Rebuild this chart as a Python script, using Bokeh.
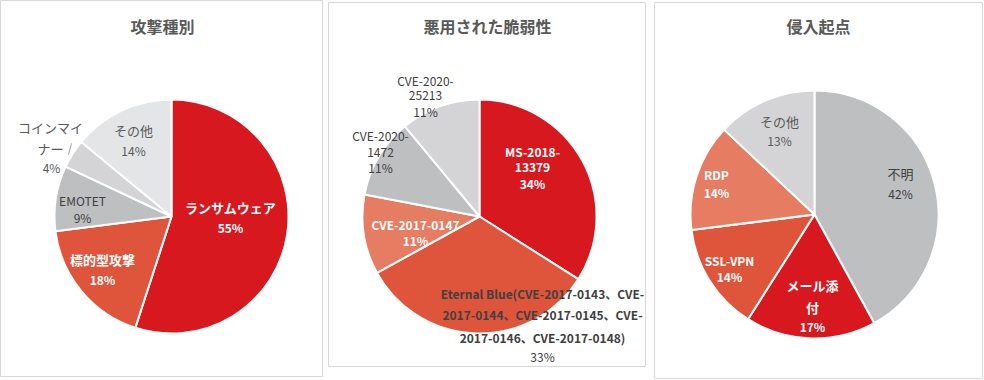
import numpy as np
from bokeh.plotting import figure
from bokeh.layouts import row
from bokeh.models import Spacer, ColumnDataSource
from bokeh.core.properties import value
from bokeh.embed import file_html
from bokeh.resources import INLINE

FONT = "Noto Sans CJK JP"

# ---- data ----
attack_title = "攻撃種別"
attack_labels = ["ランサムウェア", "標的型攻撃", "EMOTET", "コインマイナー", "その他"]
attack_values = [55, 18, 9, 4, 14]

vuln_title = "悪用された脆弱性"
vuln_labels = ["MS-2018-13379",
               "Eternal Blue(CVE-2017-0143、CVE-2017-0144、CVE-2017-0145、CVE-2017-0146、CVE-2017-0148)",
               "CVE-2017-0147", "CVE-2020-1472", "CVE-2020-25213"]
vuln_values = [34, 33, 11, 11, 11]

entry_title = "侵入起点"
entry_labels = ["不明", "メール添付", "SSL-VPN", "RDP", "その他"]
entry_values = [42, 17, 14, 14, 13]

RED = "#d7191f"
ORANGE = "#df553b"
LORANGE = "#e67c62"
GREY = "#bebfc0"
LGREY = "#d4d4d6"
XLGREY = "#e4e5e7"

attack_colors = [RED, ORANGE, GREY, LGREY, XLGREY]
vuln_colors = [RED, ORANGE, LORANGE, GREY, LGREY]
entry_colors = [GREY, RED, ORANGE, LORANGE, LGREY]


class Panel:
    def __init__(self, left, top, W, H):
        self.left, self.top, self.W, self.H = left, top, W, H
        p = figure(width=W, height=H, x_range=(0, W), y_range=(0, H),
                   output_backend="svg", toolbar_location=None, min_border=0,
                   x_axis_type=None, y_axis_type=None)
        p.grid.visible = False
        p.outline_line_color = "#d9d9d9"
        p.outline_line_width = 1
        p.background_fill_color = "white"
        p.border_fill_color = "white"
        if top:
            p.margin = (top, 0, 0, 0)
        self.p = p

    def X(self, ax):
        return ax - self.left

    def Y(self, ay):
        return self.H - (ay - self.top)

    def pie(self, cx, cy, r, values, colors):
        v = np.array(values, dtype=float)
        frac = np.cumsum(v) / v.sum()
        ends = np.pi / 2 - 2 * np.pi * frac
        starts = np.concatenate([[np.pi / 2], ends[:-1]])
        src = ColumnDataSource(dict(start=starts, end=ends, color=colors))
        self.p.wedge(x=self.X(cx), y=self.Y(cy), radius=r, start_angle="start",
                     end_angle="end", direction="clock", fill_color="color",
                     line_color="white", line_width=2, source=src)

    def text(self, ax, ay, s, color="#404040", bold=False, size="12px"):
        self.p.text(x=[self.X(ax)], y=[self.Y(ay)], text=[s],
                    text_font=value(FONT), text_font_size=size,
                    text_font_style="bold" if bold else "normal",
                    text_color=color, text_align="center", text_baseline="middle")

    def title(self, ax, s):
        self.text(ax, 25, s, color="#595959", bold=True, size="16px")


def pct(v):
    return f"{v}%"


# ---- panel 1 ----
P1 = Panel(0, 0, 323, 377)
P1.title(162, attack_title)
P1.pie(171, 216, 117, attack_values, attack_colors)
P1.text(230, 207, attack_labels[0], "white", True, "13px")
P1.text(230, 227, pct(attack_values[0]), "white", True)
P1.text(102, 259, attack_labels[1], "white", True, "13px")
P1.text(102, 279, pct(attack_values[1]), "white", True)
P1.text(82, 200, attack_labels[2], "#404040")
P1.text(82, 217, pct(attack_values[2]), "#404040")
P1.text(50, 127, attack_labels[3][:5], "#595959", False, "13px")
P1.text(50, 148, attack_labels[3][5:], "#595959", False, "13px")
P1.text(51, 167, pct(attack_values[3]), "#595959")
P1.p.segment(x0=[P1.X(68)], y0=[P1.Y(154)], x1=[P1.X(71)], y1=[P1.Y(143)],
             line_color="#a6a6a6", line_width=1)
P1.text(133, 130, attack_labels[4], "#595959", False, "13px")
P1.text(133, 150, pct(attack_values[4]), "#595959")

# ---- panel 2 ----
P2 = Panel(328, 2, 318, 365)
P2.title(487, vuln_title)
P2.pie(479, 216, 117, vuln_values, vuln_colors)
P2.text(532, 151, "MS-2018-", "white", True)
P2.text(532, 167, "13379", "white", True)
P2.text(532, 183, pct(vuln_values[0]), "white", True)
P2.text(542, 293, "Eternal Blue(CVE-2017-0143、CVE-", "#404040", True, "12px")
P2.text(542, 314, "2017-0144、CVE-2017-0145、CVE-", "#404040", True, "12px")
P2.text(542, 337, "2017-0146、CVE-2017-0148)", "#404040", True, "12px")
P2.text(542, 356, pct(vuln_values[1]), "#404040", False)
P2.text(415, 224, vuln_labels[2], "white", True)
P2.text(415, 240, pct(vuln_values[2]), "white", True)
P2.text(380, 135, "CVE-2020-", "#404040")
P2.text(380, 152, "1472", "#404040")
P2.text(380, 167, pct(vuln_values[3]), "#404040")
P2.text(425, 80, "CVE-2020-", "#404040")
P2.text(425, 95, "25213", "#404040")
P2.text(425, 111, pct(vuln_values[4]), "#404040")

# ---- panel 3 ----
P3 = Panel(654, 2, 329, 377)
P3.title(818, entry_title)
P3.pie(814, 214, 124, entry_values, entry_colors)
P3.text(900, 173, entry_labels[0], "#404040", False, "13px")
P3.text(900, 193, pct(entry_values[0]), "#404040")
P3.text(812, 285, entry_labels[1][:4], "white", True, "13px")
P3.text(812, 307, entry_labels[1][4:], "white", True, "13px")
P3.text(812, 326, pct(entry_values[1]), "white", True)
P3.text(729, 260, entry_labels[2], "white", True)
P3.text(729, 276, pct(entry_values[2]), "white", True)
P3.text(716, 174, entry_labels[3], "white", True)
P3.text(716, 192, pct(entry_values[3]), "white", True)
P3.text(779, 121, entry_labels[4], "#595959", False, "13px")
P3.text(779, 140, pct(entry_values[4]), "#595959")

layout = row(P1.p, Spacer(width=5), P2.p, Spacer(width=8), P3.p)

open("out.html", "w").write(file_html(layout, INLINE))
